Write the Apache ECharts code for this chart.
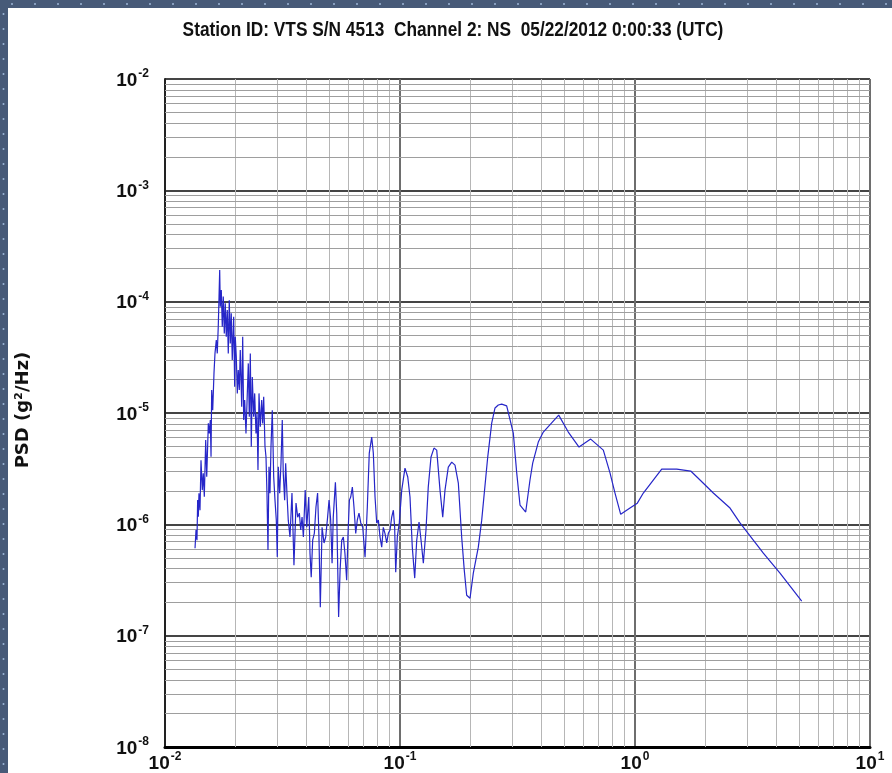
<!DOCTYPE html>
<html><head><meta charset="utf-8">
<script src="https://cdn.jsdelivr.net/npm/echarts@6/dist/echarts.min.js"></script>
<style>html,body{margin:0;padding:0;background:#fff}#c{width:892px;height:773px}</style>
</head><body><div id="c"></div>
<script>
const chartTitle = 'Station ID: VTS S/N 4513  Channel 2: NS  05/22/2012 0:00:33 (UTC)';
const yAxisName = 'PSD (g\u00b2/Hz)';
const xMin = 0.01, xMax = 10, yMin = 1e-8, yMax = 1e-2;
const minorMultipliers = [2, 3, 4, 5, 6, 7, 8, 9];
const xDecades = [0.01, 0.1, 1];
const yDecades = [1e-8, 1e-7, 1e-6, 1e-5, 1e-4, 1e-3];

const freqHz = [
0.01342,0.01355,0.01368,0.01377,0.01386,0.01395,0.01409,0.01423,0.01441,0.01455,
0.01470,0.01490,0.01505,0.01529,0.01544,0.01559,0.01570,0.01580,0.01596,0.01616,
0.01632,0.01653,0.01669,0.01686,0.01698,0.01709,0.01719,0.01736,0.01753,0.01770,
0.01788,0.01805,0.01823,0.01841,0.01859,0.01877,0.01896,0.01914,0.01933,0.01960,
0.01979,0.01991,0.02011,0.02031,0.02050,0.02071,0.02091,0.02120,0.02141,0.02162,
0.02183,0.02211,0.02233,0.02262,0.02284,0.02307,0.02329,0.02352,0.02384,0.02408,
0.02439,0.02463,0.02487,0.02512,0.02544,0.02579,0.02604,0.02630,0.02664,0.02690,
0.02716,0.02743,0.02770,0.02797,0.02825,0.02861,0.02901,0.02938,0.02976,0.03005,
0.03034,0.03076,0.03116,0.03155,0.03186,0.03230,0.03262,0.03303,0.03346,0.03403,
0.0347,0.03538,0.0361,0.0367,0.0373,0.0378,0.0383,0.0388,0.0395,0.0401,
0.0409,0.0414,0.0419,0.0425,0.0432,0.0439,0.0446,0.0452,0.0458,0.0466,
0.0475,0.0483,0.0492,0.0499,0.0507,0.0514,0.0520,0.0531,0.0538,0.0548,
0.0556,0.0565,0.0574,0.0583,0.0593,0.0601,0.0609,0.0617,0.0627,0.0637,
0.0648,0.0658,0.0669,0.0681,0.0694,0.0710,0.0726,0.0740,0.0758,0.0770,
0.0783,0.0796,0.0809,0.0822,0.0836,0.0849,0.0863,0.0878,0.0892,0.0907,
0.0922,0.0937,0.0949,0.0959,0.0974,0.0993,0.1017,0.1050,0.1079,0.1103,
0.1128,0.1155,0.1178,0.1205,0.1229,0.1257,0.1290,0.1319,0.1355,0.1395,
0.1433,0.1480,0.1520,0.1554,0.1605,0.1660,0.1714,0.1771,0.1830,0.1877,
0.1922,0.1986,0.2051,0.2154,0.2227,0.2362,0.2456,0.2537,0.2620,0.2709,
0.2844,0.2890,0.3035,0.3138,0.3241,0.3427,0.3574,0.3670,0.3877,0.4072,
0.4735,0.5202,0.5778,0.6478,0.7331,0.7827,0.8221,0.8692,0.9521,1.023,
1.085,1.196,1.299,1.505,1.726,1.891,2.154,2.537,2.798,3.516,
4.140,5.121
];
const psd = [
6.1e-7,8.9e-7,7.2e-7,1.65e-6,1.17e-6,1.90e-6,1.34e-6,3.77e-6,2.03e-6,2.87e-6,
1.77e-6,5.71e-6,2.67e-6,8.07e-6,6.56e-6,8.64e-6,4.04e-6,1.61e-5,1.06e-5,2.27e-5,
3.43e-5,4.52e-5,3.43e-5,6.16e-5,1.11e-4,1.92e-4,9.0e-5,1.27e-4,5.95e-5,1.11e-4,
5.19e-5,9.65e-5,4.84e-5,8.41e-5,3.43e-5,1.03e-4,4.22e-5,7.85e-5,2.99e-5,7.31e-5,
1.72e-5,4.84e-5,3.2e-5,1.5e-5,2.43e-5,1.61e-5,3.67e-5,1.14e-5,4.84e-5,8.64e-6,
1.31e-5,6.56e-6,1.22e-5,2.79e-5,9.25e-6,3.43e-5,4.97e-6,2.11e-5,9.25e-6,1.5e-5,
6.56e-6,9.92e-6,3.07e-6,1.5e-5,7.52e-6,1.31e-5,8.07e-6,1.4e-5,4.97e-6,4.04e-6,
1.90e-6,5.87e-7,3.29e-6,1.90e-6,4.97e-6,1.06e-5,2.67e-6,1.65e-6,1.09e-6,5.1e-7,
3.29e-6,1.90e-6,3.53e-6,8.64e-6,2.87e-6,1.65e-6,3.53e-6,1.90e-6,1.09e-6,7.7e-7,
1.91e-6,4.3e-7,1.55e-6,1.16e-6,1.26e-6,8.9e-7,1.16e-6,7.7e-7,2.03e-6,9.4e-7,
1.76e-6,5.5e-7,3.35e-7,7.2e-7,8.3e-7,1.43e-6,1.91e-6,7.7e-7,1.8e-7,9.4e-7,
6.8e-7,7.7e-7,1.16e-6,1.65e-6,1.09e-6,4.48e-7,1.16e-6,2.39e-6,1.26e-6,1.47e-7,
3.88e-7,7.2e-7,7.7e-7,5.5e-7,3.15e-7,8.3e-7,1.65e-6,1.76e-6,2.16e-6,1.43e-6,
8.3e-7,1.09e-6,1.26e-6,1.03e-6,9.4e-7,5.07e-7,1.43e-6,4.36e-6,6.07e-6,4.36e-6,
1.76e-6,1.03e-6,1.09e-6,7.7e-7,6.24e-7,9.4e-7,8.3e-7,6.8e-7,8.3e-7,8.9e-7,
1.16e-6,1.34e-6,9.4e-7,3.72e-7,7.7e-7,1.03e-6,2.03e-6,3.2e-6,2.66e-6,1.76e-6,
6.24e-7,3.29e-7,7.2e-7,1.05e-6,7.2e-7,4.48e-7,8.9e-7,2.16e-6,4.02e-6,4.84e-6,
4.64e-6,2.03e-6,1.16e-6,2.03e-6,3.27e-6,3.62e-6,3.40e-6,2.35e-6,7.7e-7,3.88e-7,
2.31e-7,2.17e-7,3.64e-7,6.24e-7,1.09e-6,4.02e-6,8.12e-6,1.11e-5,1.18e-5,1.20e-5,
1.16e-5,1.13e-5,6.6e-6,2.9e-6,1.49e-6,1.29e-6,2.5e-6,3.55e-6,5.48e-6,6.74e-6,
9.57e-6,6.74e-6,4.94e-6,5.83e-6,4.64e-6,2.9e-6,1.91e-6,1.23e-6,1.40e-6,1.55e-6,
1.91e-6,2.5e-6,3.13e-6,3.13e-6,3.01e-6,2.5e-6,1.91e-6,1.40e-6,1.03e-6,5.5e-7,
3.64e-7,2.04e-7
];

const FONT = "'Liberation Sans',Arial,sans-serif";
const seriesData = freqHz.map((f, i) => [f, psd[i]]);

const minorLines = [];
xDecades.forEach(d => minorMultipliers.forEach(m => minorLines.push([
  {coord: [d * m, yMin], lineStyle: {color: '#b6b6b6', width: 1, type: 'solid'}},
  {coord: [d * m, yMax]}
])));
yDecades.forEach(d => minorMultipliers.forEach(m => minorLines.push([
  {coord: [xMin, d * m], lineStyle: {color: '#9e9e9e', width: 1, type: 'solid'}},
  {coord: [xMax, d * m]}
])));

const supLabel = v => {
  const e = Math.round(Math.log10(v));
  return '{n|10}{e|' + e + '}';
};
const labelRich = {
  n: {fontSize: 19, fontFamily: FONT, color: '#111', fontWeight: 'bold', lineHeight: 22, verticalAlign: 'bottom'},
  e: {fontSize: 12, fontFamily: FONT, color: '#111', fontWeight: 'bold', lineHeight: 22, verticalAlign: 'top', padding: [0, 0, 0, 1]}
};

const graphics = [
  {type: 'rect', shape: {x: 0, y: 0, width: 892, height: 8}, style: {fill: '#475a78'}, z: 0},
  {type: 'rect', shape: {x: 0, y: 0, width: 8, height: 773}, style: {fill: '#475a78'}, z: 0}
];
for (let x = 12; x < 892; x += 23) graphics.push({type: 'circle', shape: {cx: x, cy: 4, r: 1}, style: {fill: '#9db6d6'}, z: 1});
for (let y = 14; y < 773; y += 15) graphics.push({type: 'circle', shape: {cx: 3.5, cy: y, r: 1}, style: {fill: '#9db6d6'}, z: 1});
graphics.push({type: 'text', x: 453, y: 30, scaleX: 0.823, originX: 0, originY: 0,
  style: {text: chartTitle, font: "bold 21px " + FONT, fill: '#111', align: 'center', verticalAlign: 'middle'}});
graphics.push({type: 'text', rotation: Math.PI / 2, x: 14, y: 410,
  style: {text: yAxisName, font: "bold 18px 'DejaVu Sans',sans-serif", fill: '#111', align: 'center', verticalAlign: 'top'}});

const chart = echarts.init(document.getElementById('c'));
chart.setOption({
  animation: false,
  backgroundColor: '#fff',
  graphic: graphics,
  grid: {left: 165, right: 22, top: 79, bottom: 26, containLabel: false},
  xAxis: {
    type: 'log', logBase: 10, min: xMin, max: xMax, interval: 1,
    axisLine: {show: true, onZero: false, lineStyle: {color: '#000', width: 3}},
    axisTick: {show: false},
    axisLabel: {formatter: supLabel, rich: labelRich, margin: 4, showMinLabel: true, showMaxLabel: true},
    splitLine: {show: true, lineStyle: {color: '#6e6e6e', width: 2}}
  },
  yAxis: {
    type: 'log', logBase: 10, min: yMin, max: yMax, interval: 1,
    axisLine: {show: true, onZero: false, lineStyle: {color: '#222', width: 2}},
    axisTick: {show: false},
    axisLabel: {formatter: supLabel, rich: labelRich, margin: 16},
    splitLine: {show: true, lineStyle: {color: '#454545', width: 2}}
  },
  series: [
    {
      type: 'line', data: [], z: 1, silent: true,
      markLine: {
        silent: true, symbol: 'none', label: {show: false}, animation: false,
        data: minorLines
      }
    },
    {
      type: 'line', data: seriesData, z: 5, showSymbol: false, symbol: 'none',
      lineStyle: {color: '#2626c8', width: 1.2}
    }
  ]
});
</script></body></html>
